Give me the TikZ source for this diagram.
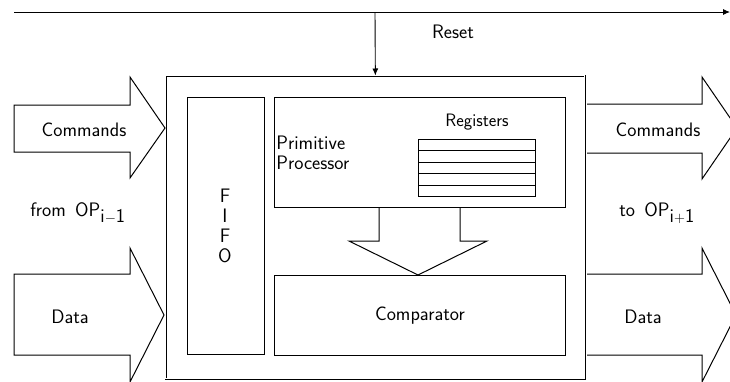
\documentclass[tikz,border=0pt]{standalone}
\usepackage{fontspec}
\usetikzlibrary{arrows.meta}
\begin{document}
\begin{tikzpicture}[x=1pt,y=-1pt, line width=0.9pt,
  font=\sffamily\fontsize{19.5}{21}\selectfont,
  box/.style={draw, inner sep=0pt, anchor=north west},
  fat/.style={draw, line width=1pt, line join=miter},
  lbl/.style={inner sep=0pt},
  tip/.style={-{Latex[length=7pt,width=6pt]}}]
\useasboundingbox (0,0) rectangle (730,381);
% top reset line
\coordinate (tl) at (14,12);
\coordinate (tr) at (730,12);
\coordinate (rs) at (375,12);
\draw[tip] (tl) -- (tr);
\node[lbl] (reset) at (453,32) {Reset};
% outer box
\node[box, double, line width=0.7pt, double distance=1.2pt, minimum width=419pt, minimum height=303pt] (outer) at (165.5,75.5) {};
\draw[tip] (rs) -- (outer.north);
% inner boxes
\node[box, minimum width=77pt, minimum height=257pt] (fifo) at (187,97) {};
\node[lbl, align=center, font=\sffamily\fontsize{19.5}{20}\selectfont] (fifot) at (225,226) {F\\I\\F\\O};
\node[box, minimum width=291pt, minimum height=110pt] (pp) at (274,97) {};
\node[lbl, anchor=north west, align=left, font=\sffamily\fontsize{19.5}{20}\selectfont] (ppt) at (276,136) {Primitive\\Processor};
\node[lbl, font=\sffamily\fontsize{18}{20}\selectfont] (regt) at (477,122) {Registers};
\node[box, minimum width=117pt, minimum height=57pt] (reg) at (418,139) {};
\foreach \yy in {150.5,162,173.5,185} \draw[line width=0.7pt] (418,\yy) -- (535,\yy);
\node[box, minimum width=291pt, minimum height=80pt] (comp) at (274,275) {};
\node[lbl] (compt) at (comp.center) {Comparator};
% big down arrow
\draw[fat] (379,207) -- (379,241) -- (349,241) -- (comp.north -| 418,0) -- (487,241) -- (460,241) -- (460,207);
% left fat arrows
\draw[fat] (14,105) -- (130,105) -- (130,77) -- (165,128) -- (130,178) -- (130,152) -- (14,152) -- cycle;
\node[lbl] (lc) at (84,130) {Commands};
\draw[fat] (14,274) -- (130,274) -- (130,248) -- (164,315) -- (130,382) -- (130,355) -- (14,355) -- cycle;
\node[lbl] (ld) at (70,317) {Data};
\node[lbl] (from) at (78,213) {from\, OP$_{\textsf{i}-\textsf{1}}$};
% right fat arrows
\draw[fat] (587,104) -- (702,104) -- (702,77) -- (737,128) -- (702,179) -- (702,153) -- (587,153);
\node[lbl] (rc) at (658,130) {Commands};
\draw[fat] (587,274) -- (702,274) -- (702,248) -- (736,315) -- (702,382) -- (702,355) -- (587,355);
\node[lbl] (rd) at (643,317) {Data};
\node[lbl] (to) at (657,213) {to\, OP$_{\textsf{i}+\textsf{1}}$};
\end{tikzpicture}
\end{document}
